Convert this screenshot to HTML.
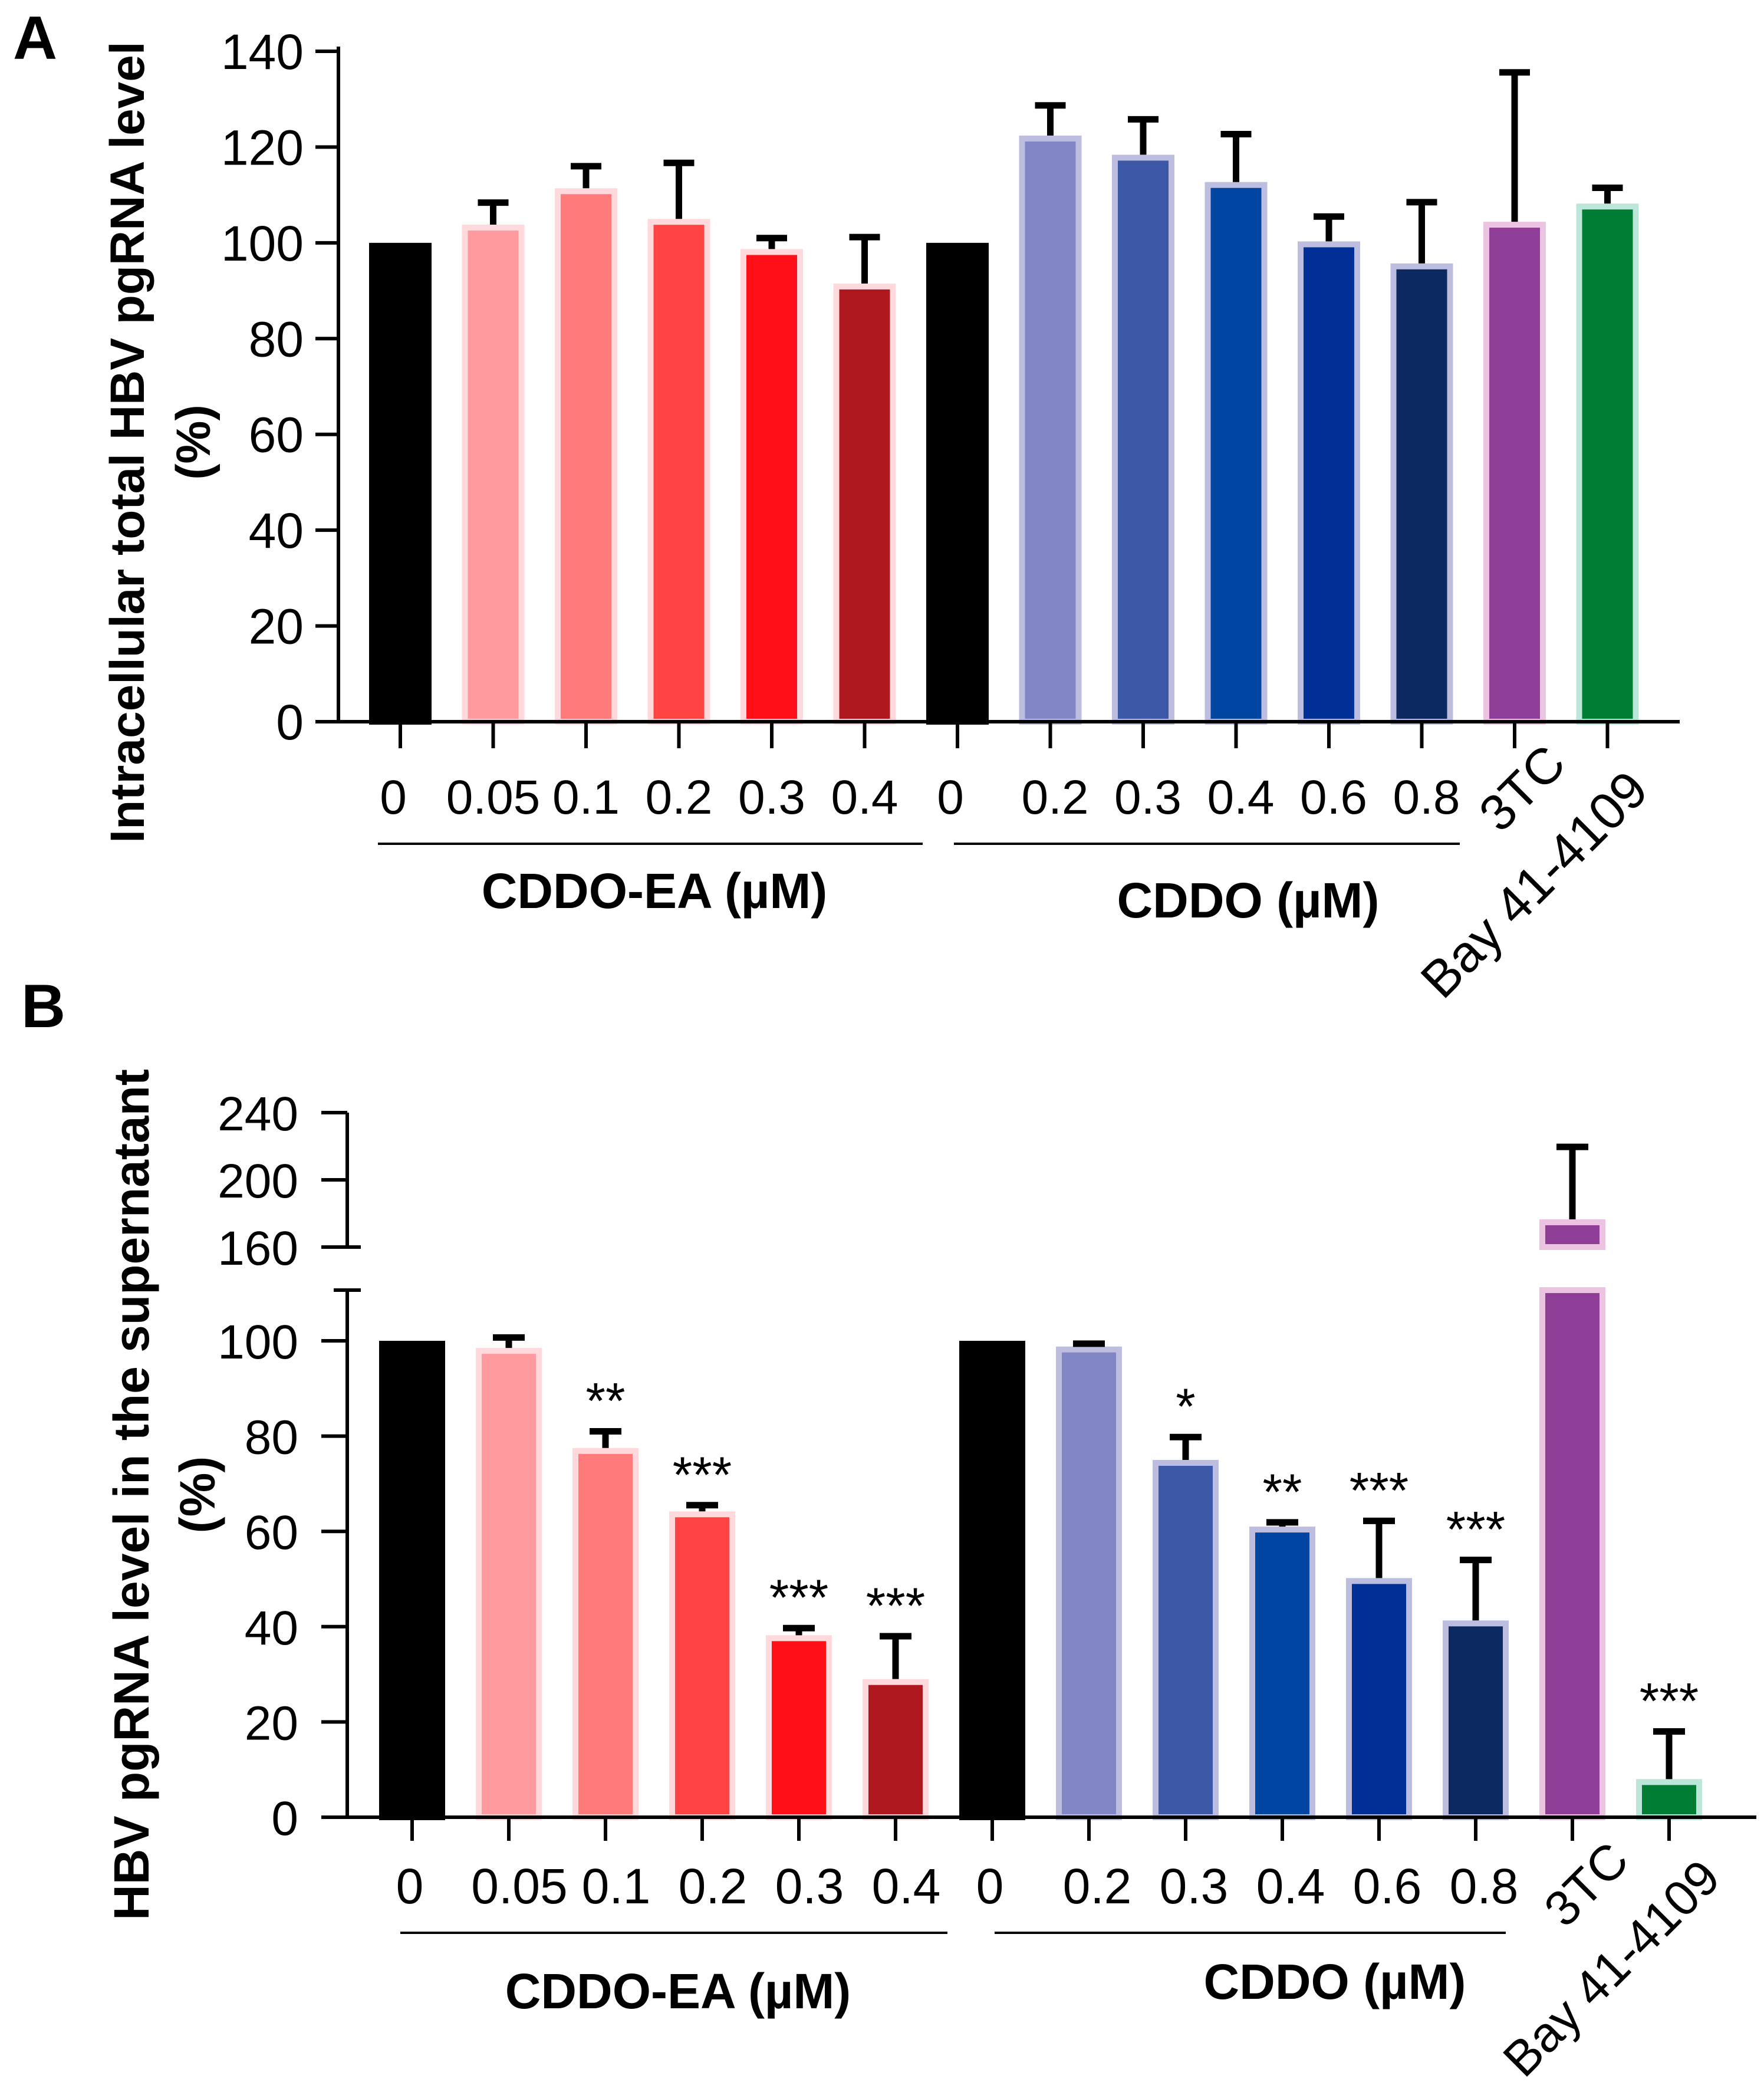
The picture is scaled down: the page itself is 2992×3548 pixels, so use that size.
<!DOCTYPE html>
<html><head><meta charset="utf-8">
<style>
html,body{margin:0;padding:0;background:#fff;}
svg{display:block;font-family:"Liberation Sans",Arial,sans-serif;}
</style></head>
<body>
<svg id="fig" width="2992" height="3548" viewBox="0 0 2992 3548" xmlns="http://www.w3.org/2000/svg">
<text x="22" y="100" font-size="104" font-weight="bold">A</text>
<text x="36" y="1742" font-size="104" font-weight="bold">B</text>
<text transform="translate(244,750) rotate(-90)" text-anchor="middle" font-size="82" font-weight="bold">Intracellular total HBV pgRNA level</text>
<text transform="translate(356,750) rotate(-90)" text-anchor="middle" font-size="82" font-weight="bold">(%)</text>
<text transform="translate(252,2535) rotate(-90)" text-anchor="middle" font-size="84" font-weight="bold">HBV pgRNA level in the supernatant</text>
<text transform="translate(364,2535) rotate(-90)" text-anchor="middle" font-size="84" font-weight="bold">(%)</text>
<g id="gA"></g>
<g id="gB"></g>
</svg>
<script>
const categories = ["0","0.05","0.1","0.2","0.3","0.4","0","0.2","0.3","0.4","0.6","0.8","3TC","Bay 41-4109"];
const fills = ["#000000","#FF9B9F","#FF7B7B","#FF4242","#FF1019","#B01820","#000000","#8087C4","#3E58A8","#0046A0","#002F96","#0C2961","#8E3E96","#007D35"];
const borders = ["#000000","#FFD9DB","#FFD9DB","#FFD9DB","#FFD9DB","#FFD9DB","#000000","#BDBDE0","#BDBDE0","#BDBDE0","#BDBDE0","#BDBDE0","#EBC4E1","#BBE6D9"];
const valuesA = [100,103.8,111.4,105,98.7,91.5,100,122.4,118.4,112.7,100.3,95.7,104.4,108.2];
const errorsA = [0,4.6,4.6,11.7,2.3,9.7,0,6.3,7.4,10,5.2,12.8,31.2,3.3];
const ticksA = [0,20,40,60,80,100,120,140];
const valuesB = [100,98.5,77.5,64.2,38.2,29,100,98.8,75,61,50.2,41.3,176.5,8];
const errorsB = [0,2.2,3.5,1.3,1.5,9,0,0.6,4.8,0.9,12,12.7,43.1,10];
const starsB = ["","","**","***","***","***","","","*","**","***","***","","***"];
const ticksBLow = [0,20,40,60,80,100];
const ticksBHigh = [160,200,240];

const NS="http://www.w3.org/2000/svg";
function mk(parent,tag,attrs,text){const e=document.createElementNS(NS,tag);for(const k in attrs)e.setAttribute(k,attrs[k]);if(text!==undefined)e.textContent=text;parent.appendChild(e);return e;}

/* ---------- Panel A ---------- */
const gA=document.getElementById('gA');
const axA={x:574,y0:1224,y140:87,xEnd:2849,cx0:679,step:157.5,bw:106};
const yA=v=>axA.y0-(v/140)*(axA.y0-axA.y140);
const xA=i=>axA.cx0+i*axA.step;
categories.forEach((c,i)=>{
  const b=mk(gA,'rect',{x:xA(i)-axA.bw/2+5,y:yA(valuesA[i])+5,width:axA.bw-10,height:axA.y0-yA(valuesA[i])-5,fill:fills[i],stroke:borders[i],'stroke-width':10});
  
  
  if(errorsA[i]>0){
    const top=yA(valuesA[i]+errorsA[i]);
    const e=mk(gA,'path',{d:`M${xA(i)} ${yA(valuesA[i])} V${top} M${xA(i)-26} ${top} H${xA(i)+26}`,stroke:'#000','stroke-width':11,fill:'none'});
    
    
  }
  const t=mk(gA,'path',{d:`M${xA(i)} ${axA.y0} V${axA.y0+45}`,stroke:'#000','stroke-width':6});
  
  
  if(i<12){
    const l=mk(gA,'text',{x:xA(i)+(i==0||i==6?-12:(i<6?0:8)),y:1380,'text-anchor':'middle','font-size':82},c);
    
    
  }
});
ticksA.forEach(v=>{
  mk(gA,'path',{d:`M535 ${yA(v)} H${axA.x}`,stroke:'#000','stroke-width':6});
  const l=mk(gA,'text',{x:515,y:yA(v)+30,'text-anchor':'end','font-size':84},String(v));
  
  
});
mk(gA,'path',{d:`M${axA.x} ${axA.y140-8} V${axA.y0+3} M${axA.x-3} ${axA.y0} H${axA.xEnd}`,stroke:'#000','stroke-width':6,fill:'none',});
mk(gA,'path',{d:'M641 1431 H1565 M1618 1431 H2476',stroke:'#000','stroke-width':4});
mk(gA,'text',{x:1110,y:1540,'text-anchor':'middle','font-size':84,'font-weight':'bold',},'CDDO-EA (µM)');
mk(gA,'text',{x:2117,y:1556,'text-anchor':'middle','font-size':84,'font-weight':'bold',},'CDDO (µM)');
mk(gA,'text',{transform:'translate(2660,1300) rotate(-45)','text-anchor':'end','font-size':86,},'3TC');
mk(gA,'text',{transform:'translate(2800,1345) rotate(-45)','text-anchor':'end','font-size':88,},'Bay 41-4109');

/* ---------- Panel B ---------- */
const gB=document.getElementById('gB');
const axB={x:589,y0:3082,y100:2274,lowTop:2188,hiBot:2115,hi240:1887,xEnd:2979,cx0:699,step:164,bw:112};
const yBlow=v=>axB.y0-(v/100)*(axB.y0-axB.y100);
const yBhigh=v=>axB.hiBot-(v-160)/80*(axB.hiBot-axB.hi240);
const yB=v=>v<=110?yBlow(v):yBhigh(v);
const xB=i=>axB.cx0+i*axB.step;
categories.forEach((c,i)=>{
  const v=valuesB[i];
  if(v<=110){
    const b=mk(gB,'rect',{x:xB(i)-axB.bw/2+5,y:yBlow(v)+5,width:axB.bw-10,height:axB.y0-yBlow(v)-5,fill:fills[i],stroke:borders[i],'stroke-width':10});
    
    
  } else {
    const b1=mk(gB,'rect',{x:xB(i)-axB.bw/2+5,y:axB.lowTop,width:axB.bw-10,height:axB.y0-axB.lowTop,fill:fills[i],stroke:borders[i],'stroke-width':10});
    
    
    const b2=mk(gB,'rect',{x:xB(i)-axB.bw/2+5,y:yBhigh(v)+5,width:axB.bw-10,height:axB.hiBot-yBhigh(v)-5,fill:fills[i],stroke:borders[i],'stroke-width':10});
    
    
  }
  let capY=yB(v);
  if(errorsB[i]>0){
    capY=yB(v+errorsB[i]);
    const e=mk(gB,'path',{d:`M${xB(i)} ${yB(v)} V${capY} M${xB(i)-27} ${capY} H${xB(i)+27}`,stroke:'#000','stroke-width':11,fill:'none'});
    
    
  }
  if(starsB[i]){
    const s=mk(gB,'text',{x:xB(i),y:capY-22,'text-anchor':'middle','font-size':86},starsB[i]);
    
    
  }
  const t=mk(gB,'path',{d:`M${xB(i)} ${axB.y0} V${axB.y0+40}`,stroke:'#000','stroke-width':6});
  
  
  if(i<12){
    const l=mk(gB,'text',{x:xB(i)+(i==0||i==6?-4:(i<6?18:14)),y:3228,'text-anchor':'middle','font-size':84},c);
    
    
  }
});
ticksBLow.forEach(v=>{
  mk(gB,'path',{d:`M545 ${yBlow(v)} H${axB.x}`,stroke:'#000','stroke-width':6});
  const l=mk(gB,'text',{x:506,y:yBlow(v)+30,'text-anchor':'end','font-size':82},String(v));
  
  
});
ticksBHigh.forEach(v=>{
  mk(gB,'path',{d:`M545 ${yBhigh(v)} H${axB.x}`,stroke:'#000','stroke-width':6});
  const l=mk(gB,'text',{x:506,y:yBhigh(v)+30,'text-anchor':'end','font-size':82},String(v));
  
  
});
mk(gB,'path',{d:`M${axB.x} ${axB.hi240} V${axB.hiBot} M${axB.x} ${axB.lowTop} V${axB.y0+3} M${axB.x-3} ${axB.y0} H${axB.xEnd} M566 ${axB.hiBot} H612 M566 ${axB.lowTop} H612`,stroke:'#000','stroke-width':6,fill:'none',});
mk(gB,'path',{d:'M679 3278 H1607 M1687 3278 H2554',stroke:'#000','stroke-width':4});
mk(gB,'text',{x:1150,y:3406,'text-anchor':'middle','font-size':84,'font-weight':'bold',},'CDDO-EA (µM)');
mk(gB,'text',{x:2264,y:3390,'text-anchor':'middle','font-size':84,'font-weight':'bold',},'CDDO (µM)');
mk(gB,'text',{transform:'translate(2767,3160) rotate(-45)','text-anchor':'end','font-size':84,},'3TC');
mk(gB,'text',{transform:'translate(2922,3190) rotate(-45)','text-anchor':'end','font-size':84,},'Bay 41-4109');
</script>
</body></html>
